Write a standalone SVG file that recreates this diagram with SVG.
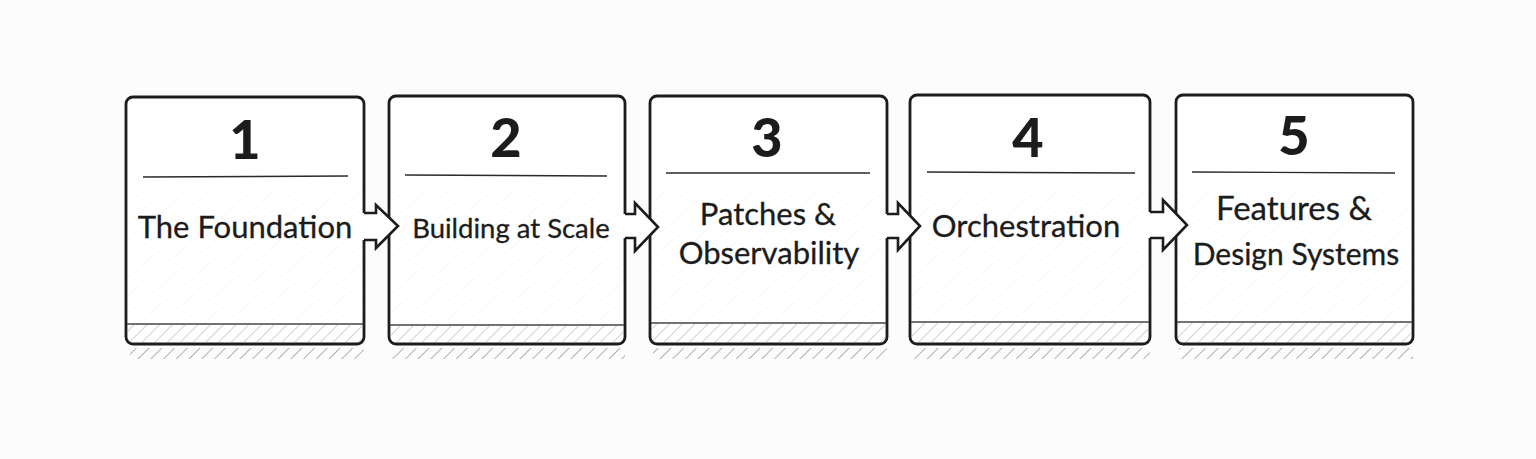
<svg xmlns="http://www.w3.org/2000/svg" width="1536" height="459" viewBox="0 0 1536 459">
<defs>
<pattern id="hatch" width="9" height="9" patternUnits="userSpaceOnUse" patternTransform="rotate(45)">
<line x1="0" y1="0" x2="0" y2="9" stroke="#444" stroke-width="1.1"/>
</pattern>
<pattern id="faint" width="14" height="14" patternUnits="userSpaceOnUse" patternTransform="rotate(50)">
<line x1="0" y1="0" x2="0" y2="14" stroke="#bbb" stroke-width="0.8"/>
</pattern>
</defs>
<style>
.box{fill:#fff;stroke:#1c1c1c;stroke-width:2.8}
.div{stroke:#2a2a2a;stroke-width:1.4}
.band{stroke:#444;stroke-width:1.4}
.num{font-family:Lato,"Noto Sans",sans-serif;font-weight:900;font-size:54px;fill:#1c1c1c;text-anchor:middle}
.lbl{font-family:Lato,"Noto Sans",sans-serif;font-size:31px;fill:#1c1c1c;text-anchor:middle;stroke:#1c1c1c;stroke-width:0.3}
.arrfill{fill:#fff;stroke:none}
.arr{fill:none;stroke:#1c1c1c;stroke-width:2.6;stroke-linejoin:miter}
.shadow{fill:url(#hatch);opacity:0.75}
.bandfill{fill:url(#hatch);opacity:0.45}
</style>
<rect width="1536" height="459" fill="#fcfcfc"/>

<g id="node1">
<rect class="shadow" x="130" y="348" width="234" height="11"/>
<rect class="box" x="126" y="97" width="238" height="247" rx="7"/>
<rect x="128" y="190" width="234" height="130" fill="url(#faint)" opacity="0.25"/>
<rect class="bandfill" x="128" y="325" width="234" height="17"/>
<line class="band" x1="127" y1="324" x2="363" y2="324"/>
<line class="div" x1="143" y1="177" x2="348" y2="176"/>
<text class="num" x="245" y="159">1</text>
<text class="lbl" x="245" y="238">The Foundation</text>
</g>

<g id="node2">
<rect class="shadow" x="392" y="348" width="233" height="11"/>
<rect class="box" x="389" y="96" width="236" height="248" rx="7"/>
<rect x="391" y="190" width="232" height="130" fill="url(#faint)" opacity="0.25"/>
<rect class="bandfill" x="391" y="326" width="232" height="16"/>
<line class="band" x1="390" y1="325" x2="624" y2="325"/>
<line class="div" x1="405" y1="175" x2="607" y2="176"/>
<text class="num" x="506" y="157">2</text>
<text class="lbl" x="511" y="238" style="font-size:27.5px">Building at Scale</text>
</g>

<g id="node3">
<rect class="shadow" x="653" y="348" width="234" height="11"/>
<rect class="box" x="650" y="96" width="237" height="248" rx="7"/>
<rect x="652" y="190" width="233" height="130" fill="url(#faint)" opacity="0.25"/>
<rect class="bandfill" x="652" y="324" width="233" height="18"/>
<line class="band" x1="651" y1="323" x2="886" y2="323"/>
<line class="div" x1="666" y1="173" x2="870" y2="173"/>
<text class="num" x="767" y="157">3</text>
<text class="lbl" x="768" y="225">Patches &amp;</text>
<text class="lbl" x="769" y="264">Observability</text>
</g>

<g id="node4">
<rect class="shadow" x="913" y="348" width="237" height="11"/>
<rect class="box" x="910" y="95" width="240" height="249" rx="7"/>
<rect x="912" y="190" width="236" height="130" fill="url(#faint)" opacity="0.25"/>
<rect class="bandfill" x="912" y="323" width="236" height="19"/>
<line class="band" x1="911" y1="322" x2="1149" y2="322"/>
<line class="div" x1="927" y1="172" x2="1135" y2="173"/>
<text class="num" x="1028" y="157">4</text>
<text class="lbl" x="1026" y="237">Orchestration</text>
</g>

<g id="node5">
<rect class="shadow" x="1179" y="348" width="234" height="11"/>
<rect class="box" x="1176" y="95" width="237" height="249" rx="7"/>
<rect x="1178" y="190" width="233" height="130" fill="url(#faint)" opacity="0.25"/>
<rect class="bandfill" x="1178" y="323" width="233" height="19"/>
<line class="band" x1="1177" y1="322" x2="1412" y2="322"/>
<line class="div" x1="1192" y1="172" x2="1395" y2="173"/>
<text class="num" x="1294" y="155">5</text>
<text class="lbl" x="1294" y="220" style="font-size:33px">Features &amp;</text>
<text class="lbl" x="1296" y="265" style="font-size:30px">Design Systems</text>
</g>

<g id="connectors">
<polygon class="arrfill" points="362,213 376,213 376,205 398,226 376,248 376,240 362,240"/>
<path class="arr" d="M364,213 H376 V205 L398,226 L376,248 V240 H364"/>
<polygon class="arrfill" points="623,214 635,214 635,203 658,227 635,251 635,238 623,238"/>
<path class="arr" d="M625,214 H635 V203 L658,227 L635,251 V238 H625"/>
<polygon class="arrfill" points="885,214 898,214 898,203 920,226 898,250 898,238 885,238"/>
<path class="arr" d="M887,214 H898 V203 L920,226 L898,250 V238 H887"/>
<polygon class="arrfill" points="1148,212 1163,212 1163,200 1187,225 1163,250 1163,238 1148,238"/>
<path class="arr" d="M1150,212 H1163 V200 L1187,225 L1163,250 V238 H1150"/>
</g>
</svg>
